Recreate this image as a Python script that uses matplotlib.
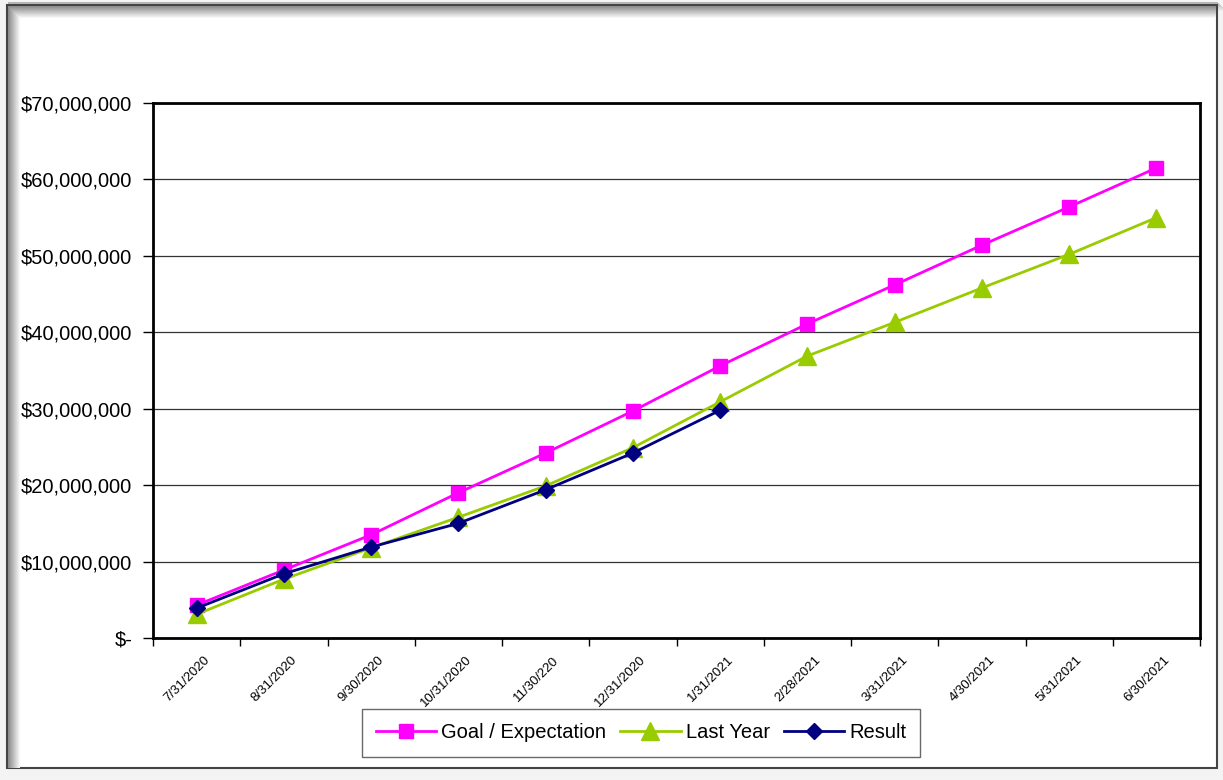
import matplotlib.pyplot as plt
from matplotlib.patches import Rectangle
from matplotlib.ticker import FuncFormatter, FixedLocator

plt.rcParams['font.family'] = ['Liberation Sans', 'DejaVu Sans']

dates = ['7/31/2020', '8/31/2020', '9/30/2020', '10/31/2020', '11/30/220', '12/31/2020',
         '1/31/2021', '2/28/2021', '3/31/2021', '4/30/2021', '5/31/2021', '6/30/2021']
goal = [4.3, 8.9, 13.5, 19.0, 24.2, 29.7, 35.6, 41.1, 46.2, 51.4, 56.4, 61.5]
last_year = [3.1, 7.7, 11.8, 15.8, 19.9, 24.9, 30.9, 36.9, 41.3, 45.8, 50.2, 55.0]
result = [3.9, 8.4, 11.9, 15.0, 19.4, 24.2, 29.8]

fig = plt.figure(figsize=(12.23, 7.80), dpi=100)
W, H = 1223, 780

# outer shadow (right / bottom) of the pasted chart object
fig.patches.append(Rectangle((0, 0), 1, 1, transform=fig.transFigure,
                             facecolor='#f4f4f4', edgecolor='none', zorder=-5))
for i in range(10):
    g = 0.70 + i * 0.028
    fig.patches.append(Rectangle((8 / W, (12 - i) / H), (1210 + i) / W, 766 / H,
                                 transform=fig.transFigure, facecolor=(g, g, g), edgecolor='none', zorder=-4))
fig.patches.append(Rectangle((7 / W, 12 / H), 1210 / W, 763 / H, transform=fig.transFigure,
                             facecolor='white', edgecolor='#444444', linewidth=1.5, zorder=-3))
# inner bevel along top and left
for i in range(12):
    g = 0.55 + i * 0.038
    fig.patches.append(Rectangle(((8 + i) / W, 12 / H), 1.2 / W, (762 - i) / H,
                                 transform=fig.transFigure, facecolor=(g, g, g), edgecolor='none', zorder=-2))
    fig.patches.append(Rectangle(((8 + i) / W, (773 - i) / H), (1208 - i) / W, 1.2 / H,
                                 transform=fig.transFigure, facecolor=(g, g, g), edgecolor='none', zorder=-2))

ax = fig.add_axes([153 / W, 1 - 638 / H, 1047 / W, 535 / H])
x = range(len(dates))
ax.plot(x, goal, color='#FF00FF', lw=2.0, marker='s', ms=10.5, label='Goal / Expectation', zorder=3)
ax.plot(x, last_year, color='#99CC00', lw=2.0, marker='^', ms=13.5, label='Last Year', zorder=4)
ax.plot(range(len(result)), result, color='#000080', lw=2.0, marker='D', ms=8, label='Result', zorder=5)

ax.set_xlim(-0.5, len(dates) - 0.5)
ax.set_ylim(0, 70)
ax.set_yticks(range(0, 71, 10))
ax.yaxis.set_major_formatter(FuncFormatter(lambda v, p: '$-' if v == 0 else f'${v * 1e6:,.0f}'))
ax.grid(axis='y', color='#333333', lw=0.9)
ax.set_axisbelow(True)

ax.xaxis.set_major_locator(FixedLocator([i - 0.5 for i in range(len(dates) + 1)]))
ax.xaxis.set_major_formatter(FuncFormatter(lambda v, p: ''))
for i, d in enumerate(dates):
    ax.text(i + 0.08, -0.03, d, transform=ax.get_xaxis_transform(), rotation=45,
            ha='right', va='top', fontsize=9.5, rotation_mode='anchor')

ax.tick_params(axis='y', labelsize=14.5, length=7, width=1, direction='out', pad=8)
ax.tick_params(axis='x', length=6, width=1, direction='out')
for s in ax.spines.values():
    s.set_linewidth(2)

fig.legend(loc='center', bbox_to_anchor=(641 / W, 1 - 733 / H), ncol=3, fontsize=14.5,
           frameon=True, fancybox=False, edgecolor='#444444', handlelength=3,
           columnspacing=0.7, handletextpad=0.25, borderpad=0.7)

fig.savefig('out.png', dpi=100)
